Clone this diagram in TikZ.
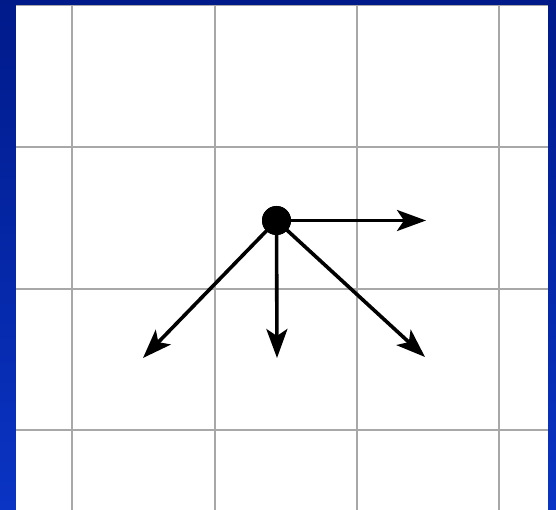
\documentclass[tikz,border=0pt]{standalone}
\usetikzlibrary{arrows.meta}
\definecolor{bgtop}{HTML}{001A8A}
\definecolor{bgbot}{HTML}{0A34C4}
\definecolor{gridgray}{HTML}{A8A8A8}
\tikzset{
  gridline/.style={draw=gridgray, line width=1.4pt},
  vec/.style={draw=black, line width=3.6pt, -{Stealth[length=29pt,width=21pt,inset=7pt]}, shorten <=-2pt},
  dot/.style={circle, fill=black, inner sep=0pt, minimum size=29pt}
}
\begin{document}
\begin{tikzpicture}[x=1pt,y=-1pt]
\shade[top color=bgtop, bottom color=bgbot] (0,0) rectangle (556,510);
\useasboundingbox (0,0) rectangle (556,510);
\fill[white] (16,5) rectangle (548,510);
\foreach \x in {72,215,357,499} \draw[gridline] (\x,5) -- (\x,510);
\foreach \y in {5.5,147,289,430} \draw[gridline] (16,\y) -- (548,\y);
\node[dot] (c) at (276.5,220.5) {};
\coordinate (r) at (426,220.5);
\coordinate (d) at (277,358);
\coordinate (dr) at (425,357);
\coordinate (dl) at (143,358);
\draw[vec] (c.center) -- (r);
\draw[vec] (c.center) -- (d);
\draw[vec] (c.center) -- (dr);
\draw[vec] (c.center) -- (dl);
\node[dot] at (c) {};
\end{tikzpicture}
\end{document}
